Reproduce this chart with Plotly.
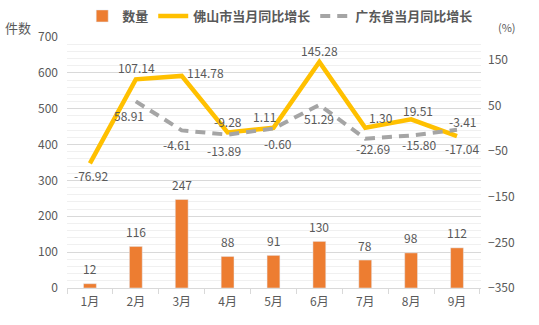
import plotly.graph_objects as go

months = ["1月", "2月", "3月", "4月", "5月", "6月", "7月", "8月", "9月"]
counts = [12, 116, 247, 88, 91, 130, 78, 98, 112]
foshan = [-76.92, 107.14, 114.78, -9.28, 1.11, 145.28, 1.30, 19.51, -17.04]
guangdong = [None, 58.91, -4.61, -13.89, -0.60, 51.29, -22.69, -15.80, -3.41]

# label offsets in pixels (dx, dy), dy positive = upward
foshan_off = [(1, -12), (1, 12), (24, 3), (0, 11), (-9, 11), (0, 11), (16, 10), (7, 9), (5, -12)]
gd_off = [(0, 0), (-7, -14), (-5, -14), (-4, -16), (5, -15), (0, -14), (8, -10), (8, -9), (5, 8)]

FONT = "Noto Sans CJK SC"
TXT = "#595959"
LS = 12

fig = go.Figure()
fig.add_trace(go.Bar(
    x=months, y=counts, name="数量", marker_color="#ED7D31", width=0.28,
))
fig.add_trace(go.Scatter(
    x=months, y=foshan, name="佛山市当月同比增长", mode="lines", yaxis="y2",
    line=dict(color="#FFC000", width=4.5),
))
fig.add_trace(go.Scatter(
    x=months, y=guangdong, name="广东省当月同比增长", mode="lines", yaxis="y2",
    line=dict(color="#A5A5A5", width=4, dash="10px,7px"), connectgaps=False,
))

annos = []
for m, v in zip(months, counts):
    annos.append(dict(x=m, y=v, xref="x", yref="y", text=str(v), showarrow=False,
                      yanchor="middle", yshift=15, font=dict(size=LS, color=TXT)))
for m, v, (dx, dy) in zip(months, foshan, foshan_off):
    annos.append(dict(x=m, y=v, xref="x", yref="y2", text=f"{v:.2f}", showarrow=False,
                      yanchor="middle", xshift=dx, yshift=dy, font=dict(size=LS, color=TXT)))
for m, v, (dx, dy) in zip(months, guangdong, gd_off):
    if v is None:
        continue
    annos.append(dict(x=m, y=v, xref="x", yref="y2", text=f"{v:.2f}", showarrow=False,
                      yanchor="middle", xshift=dx, yshift=dy, font=dict(size=LS, color=TXT)))

annos.append(dict(text="件数", x=(3 - 67) / 414, xanchor="left", y=(288 - 27) / 251,
                  yanchor="middle", xref="paper", yref="paper", showarrow=False,
                  font=dict(size=13, color=TXT)))
annos.append(dict(text="(%)", x=(496 - 67) / 414, xanchor="left", y=(288 - 27) / 251,
                  yanchor="middle", xref="paper", yref="paper", showarrow=False,
                  font=dict(size=11, color=TXT)))

fig.update_layout(
    width=539, height=325,
    margin=dict(l=67, r=58, t=37, b=37, autoexpand=False),
    paper_bgcolor="white", plot_bgcolor="white",
    font=dict(family=FONT, color=TXT, size=12),
    showlegend=True,
    legend=dict(orientation="h", x=0.515, xanchor="center", y=1 - 16 / 325, yanchor="middle",
                yref="container",
                font=dict(size=13, color=TXT, family=FONT, weight="bold"),
                itemwidth=30, tracegroupgap=0),
    xaxis=dict(type="category", showline=True, linecolor="#D9D9D9", linewidth=1,
               ticks="outside", tickson="boundaries", ticklen=5, tickcolor="#D9D9D9",
               showgrid=False, tickfont=dict(size=12, color=TXT), ticklabelstandoff=3),
    yaxis=dict(range=[0, 700], dtick=100, tick0=0, showgrid=True, gridcolor="#D9D9D9",
               zeroline=False, ticks="", tickfont=dict(size=12, color=TXT),
               ticklabelstandoff=8,
               minor=dict(dtick=20, showgrid=True, gridcolor="#F0F0F0")),
    yaxis2=dict(range=[-350, 200], tick0=-350, dtick=100, overlaying="y", side="right",
                showgrid=False, zeroline=False, ticks="", tickfont=dict(size=12, color=TXT),
                ticklabelstandoff=6),
    annotations=annos,
)

fig.write_html("out.html")
